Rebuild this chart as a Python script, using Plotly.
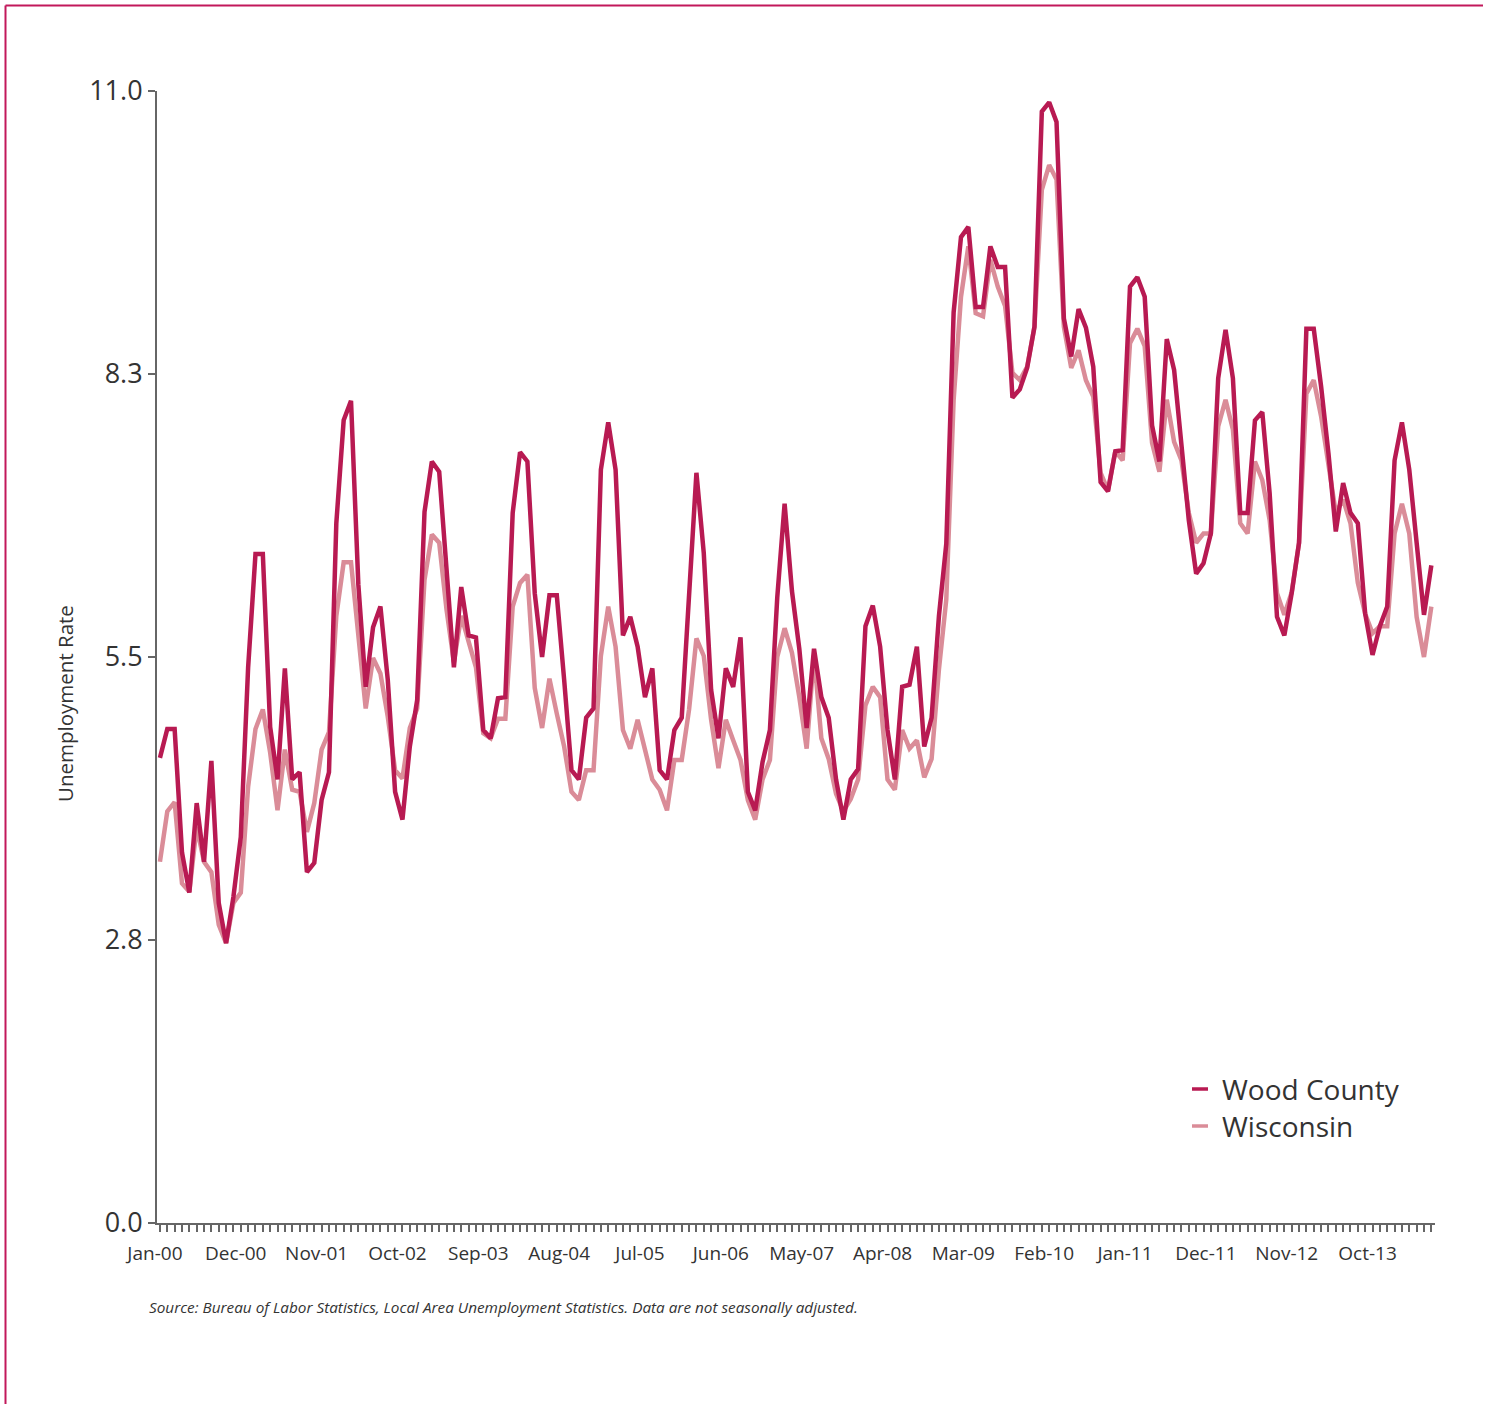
import plotly.graph_objects as go

# ---- data (monthly, Jan-2000 .. Jun-2014) ----
month_names = ["Jan", "Feb", "Mar", "Apr", "May", "Jun", "Jul", "Aug", "Sep", "Oct", "Nov", "Dec"]
months = [f"{month_names[i % 12]}-{(i // 12):02d}" for i in range(174)]

wood_county = [
    4.52, 4.80, 4.80, 3.60, 3.21, 4.08, 3.51, 4.49, 3.11, 2.72, 3.17, 3.75,
    5.40, 6.50, 6.50, 4.82, 4.31, 5.39, 4.31, 4.38, 3.41, 3.50, 4.11, 4.38,
    6.80, 7.80, 7.99, 6.20, 5.21, 5.79, 5.99, 5.28, 4.19, 3.92, 4.63, 5.08,
    6.91, 7.40, 7.30, 6.32, 5.40, 6.18, 5.71, 5.69, 4.79, 4.71, 5.10, 5.11,
    6.90, 7.49, 7.40, 6.12, 5.50, 6.10, 6.10, 5.28, 4.40, 4.31, 4.91, 5.00,
    7.32, 7.78, 7.32, 5.71, 5.89, 5.60, 5.11, 5.39, 4.40, 4.31, 4.79, 4.91,
    6.12, 7.29, 6.51, 5.18, 4.71, 5.39, 5.21, 5.69, 4.19, 4.01, 4.48, 4.79,
    6.08, 6.99, 6.14, 5.58, 4.81, 5.58, 5.11, 4.91, 4.31, 3.92, 4.31, 4.41,
    5.80, 6.00, 5.60, 4.79, 4.31, 5.21, 5.23, 5.60, 4.63, 4.91, 5.90, 6.60,
    8.85, 9.58, 9.68, 8.90, 8.90, 9.49, 9.29, 9.29, 8.02, 8.10, 8.31, 8.71,
    10.80, 10.89, 10.70, 8.79, 8.42, 8.88, 8.70, 8.32, 7.20, 7.11, 7.50, 7.51,
    9.10, 9.19, 9.00, 7.75, 7.40, 8.59, 8.29, 7.61, 6.83, 6.31, 6.41, 6.70,
    8.21, 8.68, 8.21, 6.90, 6.90, 7.80, 7.88, 7.09, 5.89, 5.71, 6.12, 6.61,
    8.69, 8.69, 8.13, 7.48, 6.72, 7.19, 6.90, 6.80, 5.92, 5.52, 5.80, 5.99,
    7.41, 7.78, 7.32, 6.61, 5.91, 6.39,
]

wisconsin = [
    3.51, 4.00, 4.09, 3.30, 3.22, 3.85, 3.51, 3.41, 2.90, 2.72, 3.11, 3.21,
    4.24, 4.80, 4.99, 4.57, 4.01, 4.60, 4.21, 4.19, 3.80, 4.08, 4.60, 4.77,
    5.90, 6.42, 6.42, 5.75, 5.00, 5.49, 5.34, 4.92, 4.40, 4.32, 4.81, 5.00,
    6.25, 6.69, 6.61, 5.96, 5.45, 5.90, 5.65, 5.40, 4.76, 4.71, 4.90, 4.90,
    5.99, 6.22, 6.30, 5.20, 4.81, 5.29, 4.95, 4.63, 4.19, 4.11, 4.40, 4.40,
    5.51, 5.99, 5.60, 4.79, 4.61, 4.89, 4.60, 4.31, 4.21, 4.01, 4.50, 4.50,
    4.99, 5.68, 5.51, 4.89, 4.42, 4.89, 4.69, 4.50, 4.11, 3.92, 4.31, 4.50,
    5.50, 5.78, 5.54, 5.11, 4.61, 5.52, 4.71, 4.51, 4.17, 4.00, 4.12, 4.31,
    5.03, 5.21, 5.11, 4.31, 4.21, 4.79, 4.61, 4.69, 4.33, 4.51, 5.38, 6.06,
    8.00, 9.00, 9.49, 8.84, 8.81, 9.36, 9.10, 8.91, 8.26, 8.19, 8.32, 8.71,
    10.04, 10.28, 10.14, 8.71, 8.31, 8.48, 8.19, 8.03, 7.29, 7.12, 7.50, 7.41,
    8.55, 8.69, 8.52, 7.58, 7.30, 8.00, 7.59, 7.41, 6.90, 6.61, 6.70, 6.70,
    7.74, 8.00, 7.71, 6.80, 6.70, 7.40, 7.22, 6.83, 6.12, 5.91, 6.13, 6.61,
    8.06, 8.19, 7.84, 7.35, 6.90, 7.03, 6.80, 6.22, 5.92, 5.73, 5.80, 5.80,
    6.70, 6.99, 6.70, 5.89, 5.50, 5.99,
]

x_tick_labels = ["Jan-00", "Dec-00", "Nov-01", "Oct-02", "Sep-03", "Aug-04", "Jul-05", "Jun-06",
                 "May-07", "Apr-08", "Mar-09", "Feb-10", "Jan-11", "Dec-11", "Nov-12", "Oct-13"]
y_tick_values = [0, 2.75, 5.5, 8.25, 11]
y_tick_labels = ["0.0", "2.8", "5.5", "8.3", "11.0"]

series_names = ["Wood County", "Wisconsin"]
series_colors = ["#B81A52", "#DA8C98"]

# ---- figure ----
idx = list(range(len(months)))
x_tick_positions = [months.index(lbl) for lbl in x_tick_labels]

FONT = "Open Sans"
AXIS_GRAY = "#666666"
TEXT = "#333333"

# plot area geometry in pixels
L, R, T, B = 157, 55, 91, 181
W, H = 1490, 1404
pw, ph = W - L - R, H - T - B


def px_x(p):
    return (p - L) / pw


def px_y(p):
    return (H - B - p) / ph


fig = go.Figure()
fig.add_trace(go.Scatter(
    x=idx, y=wisconsin, mode="lines", name=series_names[1],
    line=dict(color=series_colors[1], width=4.5),
    text=months, hovertemplate="%{text}: %{y}<extra>Wisconsin</extra>",
))
fig.add_trace(go.Scatter(
    x=idx, y=wood_county, mode="lines", name=series_names[0],
    line=dict(color=series_colors[0], width=4.5),
    text=months, hovertemplate="%{text}: %{y}<extra>Wood County</extra>",
))

# custom legend (short line swatches + labels)
legend_rows_y = [1089, 1126]
annotations = []
shapes = []
for name, color, ry in zip(series_names, series_colors, legend_rows_y):
    shapes.append(dict(
        type="line", xref="paper", yref="paper",
        x0=px_x(1192), x1=px_x(1208), y0=px_y(ry), y1=px_y(ry),
        line=dict(color=color, width=3.5),
    ))
    annotations.append(dict(
        xref="paper", yref="paper", x=px_x(1220), y=px_y(ry),
        xanchor="left", yanchor="middle", showarrow=False,
        text=name, font=dict(size=28, color=TEXT, family=FONT),
    ))

# y axis title (sits lower than plot centre in the reference)
annotations.append(dict(
    xref="paper", yref="paper", x=px_x(65), y=px_y(704),
    xanchor="center", yanchor="middle", showarrow=False, textangle=-90,
    text="Unemployment Rate", font=dict(size=20.5, color=TEXT, family=FONT),
))

# source note
annotations.append(dict(
    xref="paper", yref="paper", x=px_x(147), y=px_y(1307),
    xanchor="left", yanchor="middle", showarrow=False,
    text="<i>Source: Bureau of Labor Statistics, Local Area Unemployment Statistics. Data are not seasonally adjusted.</i>",
    font=dict(size=15.3, color=TEXT, family=FONT),
))

# outer crimson frame (left and top edges visible)
frame = dict(color="#C2185B", width=2)
shapes.append(dict(type="line", xref="paper", yref="paper",
                   x0=px_x(5.5), x1=px_x(1483), y0=px_y(5.5), y1=px_y(5.5), line=frame))
shapes.append(dict(type="line", xref="paper", yref="paper",
                   x0=px_x(5.5), x1=px_x(5.5), y0=px_y(5.5), y1=px_y(1430), line=frame))

fig.update_layout(
    width=W, height=H,
    margin=dict(l=L, r=R, t=T, b=B),
    paper_bgcolor="white", plot_bgcolor="white",
    font=dict(family=FONT, color=TEXT),
    showlegend=False,
    xaxis=dict(
        range=[-0.4, 173.5],
        showgrid=False, zeroline=False,
        showline=True, linecolor=AXIS_GRAY, linewidth=2,
        tickmode="array", tickvals=x_tick_positions, ticktext=x_tick_labels,
        ticks="outside", ticklen=7, tickwidth=1.5, tickcolor=AXIS_GRAY,
        tickfont=dict(size=19, color=TEXT, family=FONT),
        ticklabelshift=-5, ticklabelstandoff=5,
        minor=dict(tickvals=idx, ticks="outside", ticklen=7, tickwidth=1.5, tickcolor=AXIS_GRAY),
    ),
    yaxis=dict(
        range=[0, 11],
        showgrid=False, zeroline=False,
        showline=True, linecolor=AXIS_GRAY, linewidth=2,
        tickmode="array", tickvals=y_tick_values, ticktext=y_tick_labels,
        ticks="outside", ticklen=7, tickwidth=1.5, tickcolor=AXIS_GRAY,
        tickfont=dict(size=27, color=TEXT, family=FONT),
    ),
    annotations=annotations,
    shapes=shapes,
)

fig.write_html("out.html", config={"displayModeBar": False},
               post_script="document.body.style.margin='0';")
